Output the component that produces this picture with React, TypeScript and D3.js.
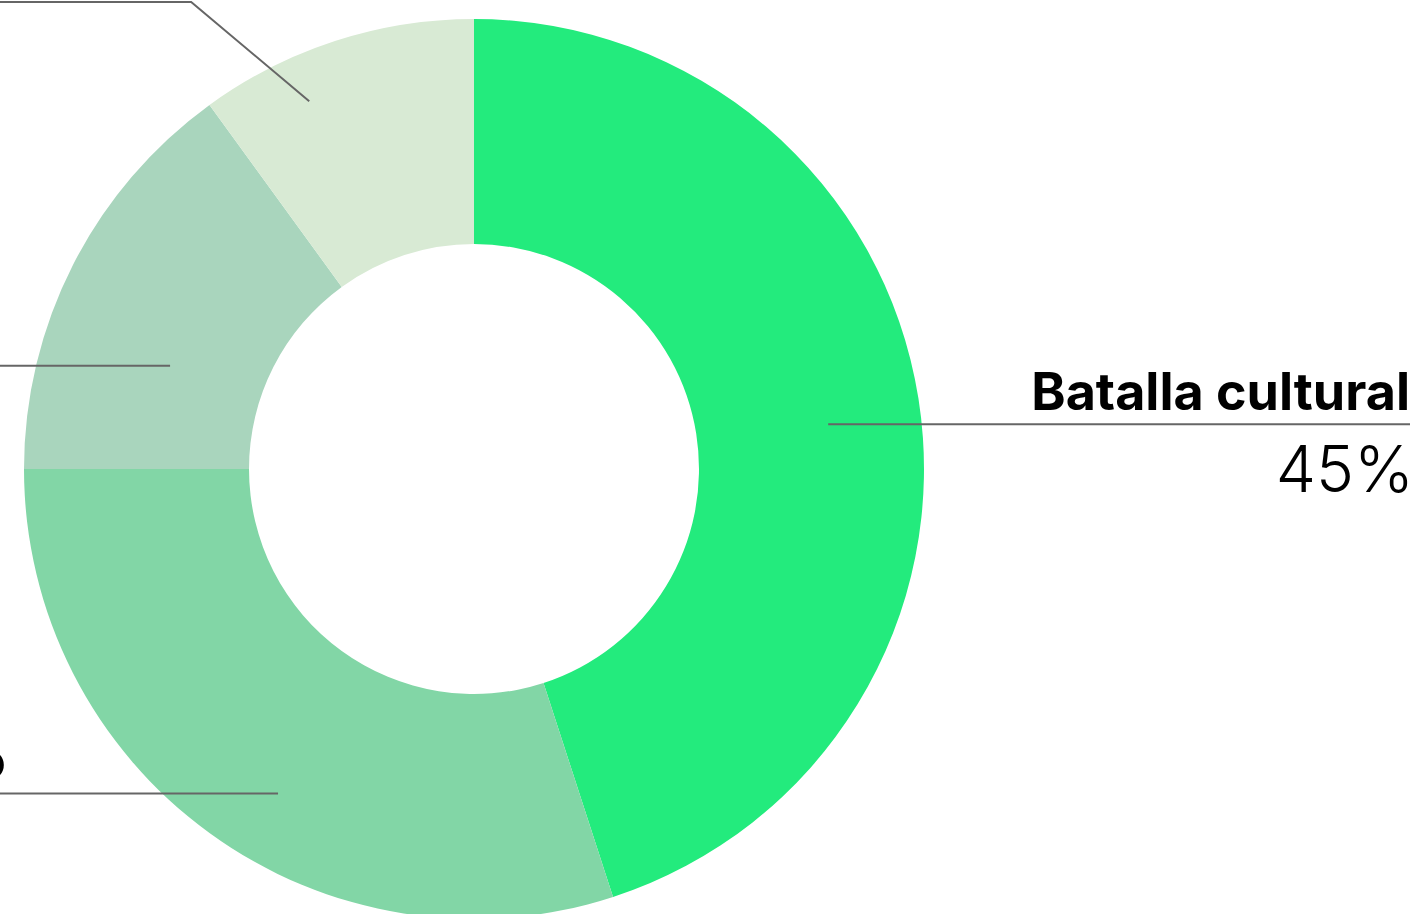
import React, { useEffect, useRef } from "react";
import * as d3 from "d3";

// slices, clockwise from 12 o'clock
const names = ["Batalla cultural", "Trabajo de campo", "Redes sociales", "Medios"];
const values = [45, 30, 15, 10];
const colors = ["#23eb7d", "#82d6a6", "#a9d5bd", "#d8ead4"];

const width = 1417;
const height = 914;
const cx = 474;
const cy = 469;
const outerR = 450;
const innerR = 225;

// leader lines: anchor in the ring (angle in radians from 12 o'clock, radius), label side
const anchors = [
  { angle: 1.445, r: 357, side: "right", endX: 1410, nameX: 1410, elbowY: null },
  { angle: 3.685, r: 379, side: "left", endX: 0, nameX: 6, elbowY: null },
  { angle: 5.04, r: 321, side: "left", endX: 0, nameX: -6, elbowY: null },
  { angle: 5.862, r: 403, side: "left", endX: 0, nameX: -6, elbowY: 2 },
];

const App = () => {
  const ref = useRef<SVGSVGElement>(null);

  useEffect(() => {
    const svg = d3.select(ref.current);
    svg.selectAll("*").remove();

    const pie = d3.pie<number>().sort(null).value((d) => d);
    const arcs = pie(values);
    const arc = d3.arc<d3.PieArcDatum<number>>().innerRadius(innerR).outerRadius(outerR);

    const g = svg.append("g").attr("transform", "translate(" + cx + "," + cy + ")");

    g.selectAll("path")
      .data(arcs)
      .join("path")
      .attr("d", arc)
      .attr("fill", (d, i) => colors[i]);

    const font = "Inter, 'Open Sans', sans-serif";

    arcs.forEach((d, i) => {
      const a = anchors[i];
      const x0 = cx + a.r * Math.sin(a.angle);
      const y0 = cy - a.r * Math.cos(a.angle);
      let lineY = y0;
      let pts: [number, number][];
      if (a.elbowY !== null) {
        lineY = a.elbowY;
        const ex = x0 - (y0 - a.elbowY) * 1.19;
        pts = [[x0, y0], [ex, lineY], [a.endX, lineY]];
      } else {
        pts = [[x0, y0], [a.endX, y0]];
      }
      svg.append("path")
        .attr("d", d3.line()(pts))
        .attr("fill", "none")
        .attr("stroke", "#666")
        .attr("stroke-width", 2);

      svg.append("text")
        .attr("x", a.nameX)
        .attr("y", lineY - 14)
        .attr("text-anchor", "end")
        .attr("font-family", font)
        .attr("font-weight", 700)
        .attr("font-size", 52)
        .attr("fill", "#000")
        .text(names[i]);
      svg.append("text")
        .attr("x", a.side === "right" ? a.endX + 4 : a.endX - 4)
        .attr("y", lineY + 68)
        .attr("text-anchor", "end")
        .attr("font-family", font)
        .attr("font-weight", 300)
        .attr("font-size", 64)
        .attr("fill", "#000")
        .text(d.data + "%");
    });
  }, []);

  return (
    <svg
      ref={ref}
      width={width}
      height={height}
      style={{ position: "absolute", left: 0, top: 0, background: "#fff" }}
    />
  );
};

export default App;
